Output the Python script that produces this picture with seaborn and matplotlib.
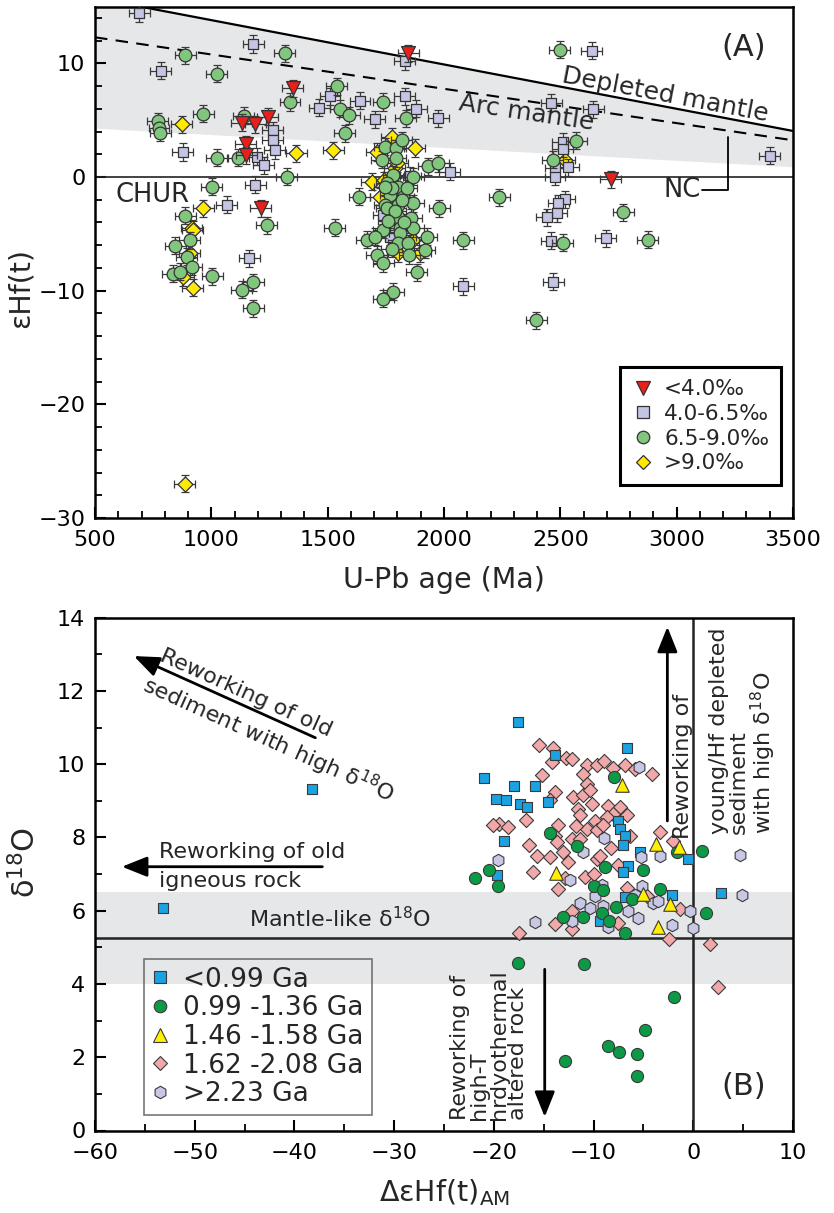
import numpy as np
import pandas as pd
import matplotlib
matplotlib.use("Agg")
import matplotlib.pyplot as plt
from matplotlib.lines import Line2D
from matplotlib.ticker import MultipleLocator
import seaborn as sns

# ---------------------------------------------------------------------------
# (A) zircon U-Pb age vs. epsilon-Hf(t), grouped by zircon delta-18O
# ---------------------------------------------------------------------------
AGE_LT40 = [1846, 1350, 1242, 1188, 1130, 1148, 1150, 1212, 2716]
EHF_LT40 = [10.9, 7.8, 5.3, 4.66, 4.78, 2.9, 1.9, -2.75, -0.2]

AGE_40_65 = [690, 782, 1180, 877, 1832, 1510, 1639, 1463, 1832, 1880, 1703,
             1975, 1263, 1263, 1273, 1195, 1226, 1188, 1066, 1163, 2025,
             2083, 1739, 1768, 1854, 2462, 2641, 2510, 2510, 2534, 2477,
             2477, 2520, 2491, 2484, 2441, 2462, 2696, 2470, 2634, 3400]
EHF_40_65 = [14.4, 9.35, 11.7, 2.2, 10.2, 7.1, 6.7, 6.1, 7.1, 6.0, 5.1,
             5.15, 4.1, 3.25, 2.35, 1.8, 1.05, -0.7, -2.45, -7.15, 0.47,
             -9.6, -3.35, -5.25, 0.1, 6.55, 5.95, 3.1, 2.5, 0.85, 0.76,
             0.03, -1.96, -2.3, -3.2, -3.55, -5.6, -5.4, -9.2, 11.1, 1.85]

AGE_65_90 = [887, 1316, 1023, 1539, 1338, 1553, 1593, 1739, 1836, 965, 770,
             775, 780, 1140, 1574, 1023, 1116, 1324, 1001, 887, 1238, 1531,
             844, 908, 894, 915, 834, 865, 1005, 1130, 1180, 1180, 1980,
             2083, 1932, 1975, 1746, 1792, 1818, 1732, 1792, 1782, 1868,
             1753, 1803, 1768, 1825, 1636, 1746, 1803, 1868, 1753, 1803,
             1860, 1810, 1868, 1739, 1810, 1925, 1667, 1703, 1803, 1846,
             1918, 1710, 1739, 1882, 1782, 1739, 1775, 1840, 1790, 1760,
             1830, 1775, 1850, 1820, 1745, 2498, 2569, 2467, 2238, 2771,
             2510, 2875, 2397]
EHF_65_90 = [10.7, 10.9, 9.1, 8.0, 6.6, 6.0, 5.45, 6.6, 5.16, 5.55, 4.9,
             4.3, 3.9, 5.4, 3.85, 1.7, 1.7, 0.03, -0.85, -3.4, -4.25, -4.46,
             -6.05, -5.55, -7.0, -7.9, -8.5, -8.35, -8.75, -9.9, -9.25,
             -11.55, -2.75, -5.55, 0.95, 1.22, 2.67, 2.52, 3.25, 1.5, 1.65,
             0.18, 0.03, -0.55, -0.85, -1.58, -1.73, -1.73, -2.46, -2.46,
             -2.3, -2.76, -3.5, -3.6, -4.5, -4.5, -4.66, -4.95, -5.25, -5.54,
             -5.25, -5.83, -5.83, -6.4, -6.86, -7.6, -8.4, -10.1, -10.7,
             -1.0, -1.0, -3.0, -3.9, -4.0, -6.3, -6.9, -2.0, -0.9, 11.2,
             3.17, 1.5, -1.8, -3.1, -5.8, -5.54, -12.6]

AGE_GT90 = [872, 1366, 1524, 1875, 1710, 1775, 1689, 1789, 965, 915, 920,
            1725, 908, 879, 1803, 1868, 1897, 920, 2520, 885, 1800, 1740]
EHF_GT90 = [4.66, 2.08, 2.37, 2.55, 2.2, 3.55, -0.41, 0.76, -2.76, -4.5,
            -4.65, -1.73, -6.7, -8.8, -6.7, -5.54, -6.7, -9.75, 1.5, -27.0,
            1.2, -0.3]

AGE_ERR = 45      # 2-sigma age uncertainty (Ma)
EHF_ERR = 0.75    # 2-sigma epsilon-Hf uncertainty

# Reference evolution lines (age in Ma, epsilon-Hf)
REF_AGE = [500, 3500]
DM_LINE = [15.75, 4.05]     # depleted mantle
ARC_LINE = [12.29, 3.23]    # arc mantle
ARC_LOW = [4.3, 0.9]        # lower limit of arc-mantle field

O18_LABELS_A = ["<4.0‰", "4.0-6.5‰", "6.5-9.0‰", ">9.0‰"]

# ---------------------------------------------------------------------------
# (B) delta-epsilon-Hf(t)AM vs. delta-18O, grouped by age
# ---------------------------------------------------------------------------
DHF_LT099 = [-17.55, -6.67, -13.86, -20.99, -17.97, -15.87, -19.78, -18.78,
             -17.37, -16.64, -14.6, -18.98, -7.51, -7.34, -6.84, -7.07, -5.34,
             -6.57, -7.07, -0.49, -19.65, -6.84, -2.1, 2.79, -9.35, -38.2,
             -53.2]
D18O_LT099 = [11.16, 10.45, 10.25, 9.63, 9.4, 9.4, 9.06, 9.01, 8.92, 8.83,
              8.97, 7.91, 8.46, 8.23, 8.05, 7.8, 7.6, 7.23, 7.06, 7.41, 6.97,
              6.36, 6.42, 6.48, 5.72, 9.31, 6.06]

DHF_099_136 = [-7.94, -14.36, -11.69, -8.85, -5.07, -20.45, -21.89, -19.55,
               0.91, -1.6, -9.95, -9.01, -3.33, -6.1, -7.74, -9.18, -11.09,
               -13.03, -6.84, 1.28, -8.42, -17.6, -11.0, -1.93, -4.88, -8.6,
               -7.45, -5.6, -5.6, -12.85]
D18O_099_136 = [9.65, 8.13, 7.76, 7.18, 7.11, 7.12, 6.88, 6.68, 7.63, 7.6,
                6.68, 6.57, 6.59, 6.31, 6.09, 5.95, 5.84, 5.84, 5.4, 5.95,
                5.72, 4.58, 4.55, 3.64, 2.75, 2.31, 2.15, 2.08, 1.49, 1.89]

DHF_146_158 = [-7.18, -3.73, -1.4, -13.76, -2.33, -3.5, -5.07]
D18O_146_158 = [9.42, 7.82, 7.73, 7.03, 6.18, 5.56, 6.45]

DHF_162_208 = [-15.44, -14.03, -12.76, -12.19, -14.2, -10.69, -9.69, -8.95,
               -8.08, -6.84, -5.84, -4.17, -11.02, -10.69, -15.2, -13.86,
               -14.36, -12.02, -11.02, -10.19, -11.52, -8.52, -7.34, -6.67,
               -8.01, -8.68, -16.77, -19.45, -18.55, -20.05, -9.85, -10.69,
               -9.69, -9.02, -13.53, -13.86, -11.35, -3.33, -2.0, -6.34,
               -16.44, -15.7, -14.36, -13.03, -13.7, -12.19, -11.35, -9.69,
               -9.35, -12.53, -16.04, -10.85, -13.53, -6.67, -4.67, -12.19,
               -13.86, -12.19, -7.51, -17.45, -2.4, -1.34, 1.66, 2.49, -10.4,
               -11.8, -8.3, -7.6, -10.0, -12.9]
D18O_162_208 = [10.52, 10.43, 10.18, 10.14, 10.07, 9.97, 9.99, 10.08, 9.9,
                9.97, 9.86, 9.74, 9.74, 9.47, 9.7, 9.24, 9.01, 9.1, 9.15, 8.92,
                8.78, 8.87, 8.83, 8.6, 8.65, 8.56, 8.48, 8.37, 8.28, 8.34, 8.46,
                8.23, 8.19, 8.33, 8.33, 8.05, 8.6, 8.16, 7.91, 8.05, 7.78, 7.5,
                7.46, 7.6, 7.87, 7.96, 7.96, 7.41, 7.5, 7.32, 7.05, 6.91, 6.59,
                6.63, 6.4, 5.99, 5.63, 5.49, 5.67, 5.4, 5.22, 6.04, 5.08, 3.93,
                9.3, 8.3, 7.7, 7.25, 7.0, 6.9]

DHF_GT223 = [-5.41, -8.95, -11.02, -5.27, -3.33, 4.69, -19.55, -12.36, -9.18,
             -5.18, -9.85, -5.84, -11.35, -10.35, -9.01, -4.07, -3.5, 4.86,
             -15.87, -12.19, -8.52, -6.5, -5.5, -0.32, -2.17, 0.0]
D18O_GT223 = [9.93, 7.98, 7.6, 7.46, 7.5, 7.52, 7.37, 6.84, 6.7, 6.68, 6.4,
              6.42, 6.22, 6.06, 6.13, 6.22, 6.27, 6.42, 5.69, 5.72, 5.56,
              5.99, 5.81, 5.99, 5.6, 5.54]

AGE_LABELS_B = ["<0.99 Ga", "0.99 -1.36 Ga", "1.46 -1.58 Ga",
                "1.62 -2.08 Ga", ">2.23 Ga"]

MANTLE_O18 = 5.25           # mantle zircon delta-18O
MANTLE_BAND = [4.0, 6.5]    # mantle-like range

# ---------------------------------------------------------------------------
sns.set_theme(style="ticks")
plt.rcParams["font.family"] = ["DejaVu Sans"]
plt.rcParams["mathtext.default"] = "regular"
plt.rcParams["axes.linewidth"] = 1.8

dfA = pd.concat([
    pd.DataFrame({"age": AGE_GT90, "ehf": EHF_GT90, "grp": O18_LABELS_A[3]}),
    pd.DataFrame({"age": AGE_40_65, "ehf": EHF_40_65, "grp": O18_LABELS_A[1]}),
    pd.DataFrame({"age": AGE_65_90, "ehf": EHF_65_90, "grp": O18_LABELS_A[2]}),
    pd.DataFrame({"age": AGE_LT40, "ehf": EHF_LT40, "grp": O18_LABELS_A[0]}),
], ignore_index=True)

dfB = pd.concat([
    pd.DataFrame({"dhf": DHF_162_208, "o18": D18O_162_208, "grp": AGE_LABELS_B[3]}),
    pd.DataFrame({"dhf": DHF_LT099, "o18": D18O_LT099, "grp": AGE_LABELS_B[0]}),
    pd.DataFrame({"dhf": DHF_GT223, "o18": D18O_GT223, "grp": AGE_LABELS_B[4]}),
    pd.DataFrame({"dhf": DHF_099_136, "o18": D18O_099_136, "grp": AGE_LABELS_B[1]}),
    pd.DataFrame({"dhf": DHF_146_158, "o18": D18O_146_158, "grp": AGE_LABELS_B[2]}),
], ignore_index=True)

STYLE_A = {
    O18_LABELS_A[0]: dict(marker="v", color="#e8201c", s=100),
    O18_LABELS_A[1]: dict(marker="s", color="#c4c4e4", s=62),
    O18_LABELS_A[2]: dict(marker="o", color="#80c67c", s=84),
    O18_LABELS_A[3]: dict(marker="D", color="#ffea00", s=58),
}
STYLE_B = {
    AGE_LABELS_B[0]: dict(marker="s", color="#1aa2e2", s=60),
    AGE_LABELS_B[1]: dict(marker="o", color="#0d9a47", s=76),
    AGE_LABELS_B[2]: dict(marker="^", color="#fff000", s=95),
    AGE_LABELS_B[3]: dict(marker="D", color="#f2a8a8", s=52),
    AGE_LABELS_B[4]: dict(marker="h", color="#c8c8e6", s=80),
}

W, H = 834, 1213
fig = plt.figure(figsize=(W / 100, H / 100), dpi=100)
ax1 = fig.add_axes([95 / W, 1 - 518 / H, 698 / W, 511.5 / H])
ax2 = fig.add_axes([95 / W, 1 - 1130.5 / H, 698 / W, 512.9 / H])

TICK_FS = 16
LABEL_FS = 20.5


def style_axes(ax):
    ax.tick_params(which="both", direction="in", top=False, right=False,
                   labelsize=TICK_FS, colors="black")
    ax.tick_params(axis="x", which="both", pad=9)
    ax.tick_params(axis="y", which="both", pad=7)
    ax.tick_params(which="major", length=8, width=1.5)
    ax.tick_params(which="minor", length=5, width=1.3)
    for sp in ax.spines.values():
        sp.set_visible(True)
        sp.set_color("black")
        sp.set_linewidth(1.8)


def text_angle(ax, xs, ys):
    p = ax.transData.transform(np.column_stack([xs, ys]))
    return np.degrees(np.arctan2(p[1, 1] - p[0, 1], p[1, 0] - p[0, 0]))


# ----------------------------- panel (A) -----------------------------------
ax1.set_xlim(500, 3500)
ax1.set_ylim(-30, 15)
ax1.fill_between(REF_AGE, ARC_LOW, DM_LINE, color="#e6e7e8", lw=0, zorder=0)
ax1.plot(REF_AGE, DM_LINE, color="black", lw=1.6, zorder=1)
ax1.plot(REF_AGE, ARC_LINE, color="black", lw=1.5, ls=(0, (6, 4)), zorder=1)
ax1.axhline(0, color="#222222", lw=1.2, zorder=1)

order_A = [O18_LABELS_A[3], O18_LABELS_A[1], O18_LABELS_A[2], O18_LABELS_A[0]]
for k, grp in enumerate(order_A):
    sub = dfA[dfA["grp"] == grp]
    st = STYLE_A[grp]
    ax1.errorbar(sub["age"], sub["ehf"], xerr=AGE_ERR, yerr=EHF_ERR, fmt="none",
                 ecolor="#3a3a3a", elinewidth=0.9, capsize=2.6, capthick=0.9,
                 zorder=2 + 2 * k)
    sns.scatterplot(data=sub, x="age", y="ehf", ax=ax1, marker=st["marker"],
                    color=st["color"], s=st["s"], edgecolor="#333333",
                    linewidth=0.9, legend=False, zorder=3 + 2 * k)

ax1.xaxis.set_major_locator(MultipleLocator(500))
ax1.xaxis.set_minor_locator(MultipleLocator(100))
ax1.yaxis.set_major_locator(MultipleLocator(10))
ax1.yaxis.set_minor_locator(MultipleLocator(2))
style_axes(ax1)
ax1.set_xlabel("U-Pb age (Ma)", fontsize=LABEL_FS, labelpad=11)
ax1.set_ylabel("εHf(t)", fontsize=LABEL_FS)
ax1.yaxis.set_label_coords(-0.087, 0.45)

ang_dm = text_angle(ax1, REF_AGE, DM_LINE)
ang_arc = text_angle(ax1, REF_AGE, ARC_LINE)
ax1.text(2952, 7.27, "Depleted mantle", fontsize=18, rotation=ang_dm,
         rotation_mode="anchor", ha="center", va="center", zorder=20)
ax1.text(2355, 5.6, "Arc mantle", fontsize=18, rotation=ang_arc,
         rotation_mode="anchor", ha="center", va="center", zorder=20)
ax1.text(590, -1.6, "CHUR", fontsize=18.5, ha="left", va="center", zorder=20)
ax1.plot([3220, 3220, 3110], [3.5, -1.15, -1.15], color="black", lw=1.3,
         zorder=20)
ax1.text(3105, -1.15, "NC", fontsize=18.5, ha="right", va="center", zorder=20)
ax1.text(3290, 11.4, "(A)", fontsize=22, ha="center", va="center", zorder=20)

hA = [Line2D([], [], ls="none", marker=STYLE_A[g]["marker"],
             markerfacecolor=STYLE_A[g]["color"], markeredgecolor="#333333",
             markeredgewidth=0.9,
             markersize={"v": 10, "s": 8, "o": 9, "D": 7.5}[STYLE_A[g]["marker"]])
      for g in O18_LABELS_A]
legA = ax1.legend(hA, O18_LABELS_A, loc="lower left",
                  bbox_to_anchor=(0.752, 0.064), borderaxespad=0,
                  fontsize=15.5, frameon=True, fancybox=False, framealpha=1,
                  edgecolor="black", borderpad=0.55, labelspacing=0.22,
                  handlelength=1.0, handletextpad=0.5)
legA.get_frame().set_linewidth(2.2)
legA.set_zorder(30)

# ----------------------------- panel (B) -----------------------------------
ax2.set_xlim(-60, 10)
ax2.set_ylim(0, 14)
ax2.axhspan(MANTLE_BAND[0], MANTLE_BAND[1], color="#e6e7e8", lw=0, zorder=0)
ax2.axhline(MANTLE_O18, color="#222222", lw=1.8, zorder=1)
ax2.axvline(0, color="#222222", lw=1.8, zorder=1)

for k, grp in enumerate(dfB["grp"].unique()):
    sub = dfB[dfB["grp"] == grp]
    st = STYLE_B[grp]
    sns.scatterplot(data=sub, x="dhf", y="o18", ax=ax2, marker=st["marker"],
                    color=st["color"], s=st["s"], edgecolor="#3a3a3a",
                    linewidth=0.8, legend=False, zorder=3 + k)

ax2.xaxis.set_major_locator(MultipleLocator(10))
ax2.xaxis.set_minor_locator(MultipleLocator(5))
ax2.yaxis.set_major_locator(MultipleLocator(2))
ax2.yaxis.set_minor_locator(MultipleLocator(1))
style_axes(ax2)
ax2.set_xlabel("ΔεHf(t)$_{AM}$", fontsize=LABEL_FS, labelpad=10)
ax2.set_ylabel("δ$^{18}$O", fontsize=LABEL_FS + 1.5)
ax2.yaxis.set_label_coords(-0.077, 0.523)

ANN_FS = 16
arrow_kw = dict(arrowstyle="-|>,head_length=0.7,head_width=0.28", lw=2.0,
                color="black", shrinkA=0, shrinkB=0, mutation_scale=22)

# old sediment trend
ax2.annotate("", xy=(-56.1, 12.95), xytext=(-37.9, 10.72),
             arrowprops=arrow_kw, zorder=20)
ang_sed = text_angle(ax2, [-56.1, -37.9], [12.95, 10.72])
ang_sed = ang_sed - 180 if ang_sed > 90 else ang_sed
ax2.text(-44.85, 11.95, "Reworking of old", fontsize=ANN_FS, rotation=ang_sed,
         rotation_mode="anchor", ha="center", va="center")
ax2.text(-42.6, 10.66, "sediment with high δ$^{18}$O", fontsize=ANN_FS,
         rotation=ang_sed, rotation_mode="anchor", ha="center", va="center")

# old igneous rock trend
ax2.annotate("", xy=(-57.3, 7.2), xytext=(-37.2, 7.2),
             arrowprops=arrow_kw, zorder=20)
ax2.text(-53.6, 7.6, "Reworking of old", fontsize=ANN_FS, ha="left",
         va="center")
ax2.text(-53.6, 6.8, "igneous rock", fontsize=ANN_FS, ha="left", va="center")

ax2.text(-44.6, 5.79, "Mantle-like δ$^{18}$O", fontsize=ANN_FS, ha="left",
         va="center", zorder=20)

# young sediment trend
ax2.annotate("", xy=(-2.6, 13.75), xytext=(-2.6, 8.45),
             arrowprops=arrow_kw, zorder=20)
ax2.text(-1.0, 7.97, "Reworking of", fontsize=ANN_FS, rotation=90,
         ha="center", va="bottom", zorder=20)
ax2.text(5.0, 8.1, "young/Hf depleted\nsediment\nwith high δ$^{18}$O",
         fontsize=ANN_FS, rotation=90, ha="center", va="bottom",
         multialignment="left", linespacing=1.0, zorder=20)

# hydrothermal alteration trend
ax2.annotate("", xy=(-14.9, 0.37), xytext=(-14.9, 4.4),
             arrowprops=arrow_kw, zorder=20)
ax2.text(-20.5, 0.28, "Reworking of\nhigh-T\nhrdyothermal\naltered rock",
         fontsize=ANN_FS, rotation=90, ha="center", va="bottom",
         multialignment="left", linespacing=0.97, zorder=20)

ax2.text(5.1, 1.2, "(B)", fontsize=22, ha="center", va="center", zorder=20)

hB = [Line2D([], [], ls="none", marker=STYLE_B[g]["marker"],
             markerfacecolor=STYLE_B[g]["color"], markeredgecolor="#3a3a3a",
             markeredgewidth=0.8,
             markersize={"s": 8, "o": 9, "^": 10, "D": 7.5, "h": 9}[STYLE_B[g]["marker"]])
      for g in AGE_LABELS_B]
legB = ax2.legend(hB, AGE_LABELS_B, loc="lower left",
                  bbox_to_anchor=(0.070, 0.030), borderaxespad=0,
                  fontsize=19, frameon=True, fancybox=False,
                  facecolor="none", edgecolor="#555555", borderpad=0.3,
                  labelspacing=0.1, handlelength=0.6, handletextpad=0.6)
legB.get_frame().set_linewidth(1.2)
legB.set_zorder(30)

fig.savefig("out.png", dpi=100)
